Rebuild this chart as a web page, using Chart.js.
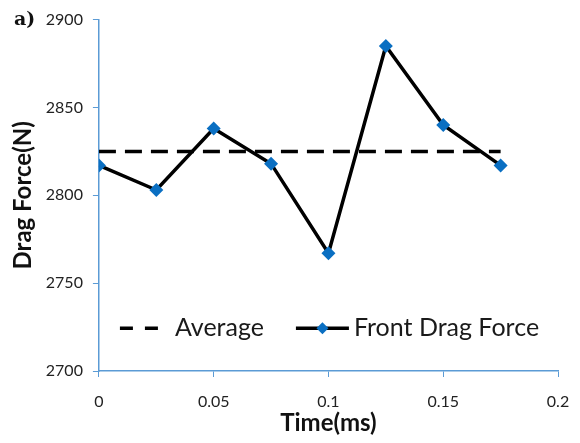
<!DOCTYPE html>
<html>
<head>
<meta charset="utf-8">
<script src="https://cdn.jsdelivr.net/npm/chart.js@4/dist/chart.umd.min.js"></script>
<style>
  html, body { margin: 0; padding: 0; background: #fff; }
  #wrap { position: relative; width: 580px; height: 443px; }
  #tag { position: absolute; left: 14px; top: 7px; font: bold 19px "DejaVu Serif", "Liberation Serif", serif; color: #111; }
</style>
</head>
<body>
<div id="wrap">
  <canvas id="chart" width="580" height="443"></canvas>
  <div id="tag">a)</div>
</div>
<script>
// chart data
const times = [0, 0.025, 0.05, 0.075, 0.1, 0.125, 0.15, 0.175];
const dragForce = [2817, 2803, 2838, 2818, 2767, 2885, 2840, 2817];
const averageTimes = [0, 0.175];
const averageValue = [2825, 2825];
const xTickLabels = ['0', '0.05', '0.1', '0.15', '0.2'];
const yTickLabels = ['2700', '2750', '2800', '2850', '2900'];

const axisBlue = '#5b9bd5';
const markerBlue = '#0a6fc2';
const fontFamily = 'Lato, "Open Sans", sans-serif';
const tickFont = { family: fontFamily, size: 16 };
const titleFont = { family: fontFamily, size: 24, weight: 'bold' };

// legend drawn inside the plot area, near the bottom
const insideLegend = {
  id: 'insideLegend',
  afterDraw(chart) {
    const ctx = chart.ctx;
    const area = chart.chartArea;
    const y = area.top + (area.bottom - area.top) * 0.878;
    let x = area.left + 21;
    ctx.save();
    ctx.font = '25px ' + fontFamily;
    ctx.textBaseline = 'middle';
    chart.data.datasets.forEach(ds => {
      const dashed = !!ds.borderDash;
      const len = dashed ? 40 : 53;
      ctx.strokeStyle = ds.borderColor;
      ctx.lineWidth = 3.5;
      ctx.setLineDash(dashed ? [13, 12] : []);
      ctx.beginPath();
      ctx.moveTo(x, y);
      ctx.lineTo(x + len, y);
      ctx.stroke();
      ctx.setLineDash([]);
      if (ds.pointRadius > 0) {
        const cx = x + len / 2;
        ctx.fillStyle = ds.pointBackgroundColor;
        ctx.beginPath();
        ctx.moveTo(cx, y - 6);
        ctx.lineTo(cx + 6, y);
        ctx.lineTo(cx, y + 6);
        ctx.lineTo(cx - 6, y);
        ctx.closePath();
        ctx.fill();
      }
      const gap = dashed ? 15 : 5;
      ctx.fillStyle = '#1a1a1a';
      ctx.fillText(ds.label, x + len + gap, y);
      x += len + gap + ctx.measureText(ds.label).width + 32;
    });
    ctx.restore();
  }
};

new Chart(document.getElementById('chart').getContext('2d'), {
  type: 'line',
  data: {
    datasets: [{
      label: 'Average',
      data: averageTimes.map((t, i) => ({ x: t, y: averageValue[i] })),
      borderColor: '#000',
      borderWidth: 3.5,
      borderDash: [17, 9],
      pointRadius: 0,
      fill: false
    }, {
      label: 'Front Drag Force',
      data: times.map((t, i) => ({ x: t, y: dragForce[i] })),
      borderColor: '#000',
      borderWidth: 3.5,
      pointStyle: 'rectRot',
      pointRadius: 7,
      pointBackgroundColor: markerBlue,
      pointBorderColor: markerBlue,
      pointBorderWidth: 0,
      fill: false,
      tension: 0
    }]
  },
  options: {
    responsive: false,
    animation: false,
    layout: { padding: { left: 9, right: 22, top: 17, bottom: 5 } },
    plugins: {
      legend: { display: false },
      tooltip: { enabled: false }
    },
    scales: {
      x: {
        type: 'linear',
        min: 0,
        max: 0.2,
        // the last label overhang is covered by the layout padding
        afterFit: scale => { scale.paddingRight = 0; },
        ticks: {
          stepSize: 0.05,
          color: '#222',
          font: tickFont,
          padding: 15,
          callback: (v, i) => xTickLabels[i]
        },
        grid: { drawOnChartArea: false, color: axisBlue, tickLength: 6 },
        border: { color: axisBlue, width: 1.5 },
        title: {
          display: true,
          text: 'Time(ms)',
          color: '#111',
          font: titleFont,
          padding: { top: -17, bottom: 0 }
        }
      },
      y: {
        min: 2700,
        max: 2900,
        ticks: {
          stepSize: 50,
          color: '#222',
          font: tickFont,
          padding: 10,
          callback: (v, i) => yTickLabels[i]
        },
        grid: { drawOnChartArea: false, color: axisBlue, tickLength: 6 },
        border: { color: axisBlue, width: 1.5 },
        title: {
          display: true,
          text: 'Drag Force(N)',
          color: '#111',
          font: titleFont,
          padding: { top: 0, bottom: -2 }
        }
      }
    }
  },
  plugins: [insideLegend]
});
</script>
</body>
</html>
